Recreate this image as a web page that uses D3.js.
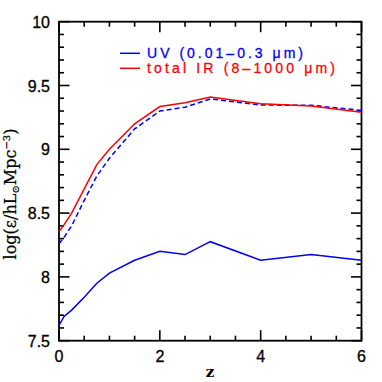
<!DOCTYPE html>
<html>
<head>
<meta charset="utf-8">
<script src="https://cdn.jsdelivr.net/npm/d3@7"></script>
<style>
  body { margin: 0; background: #fff; }
  svg { display: block; }
  .tick-label { font-family: "Liberation Sans", Arial, sans-serif; font-size: 16px; fill: #000; stroke: #000; stroke-width: 0.3px; }
  .legend { font-family: "Liberation Sans", Arial, sans-serif; font-size: 14px; stroke-width: 0.3px; }
</style>
</head>
<body>
<svg id="chart" width="382" height="382"></svg>
<script>
var redshifts = [0, 0.1, 0.25, 0.5, 0.75, 1, 1.5, 2, 2.5, 3, 4, 5, 6];
var uvValues = [7.62, 7.69, 7.74, 7.84, 7.95, 8.03, 8.13, 8.20, 8.175, 8.276, 8.13, 8.175, 8.13];
var irValues = [8.355, 8.41, 8.50, 8.69, 8.88, 9.00, 9.20, 9.335, 9.365, 9.41, 9.357, 9.34, 9.29];
var irDashedValues = [8.26, 8.31, 8.40, 8.60, 8.79, 8.93, 9.16, 9.30, 9.33, 9.395, 9.347, 9.345, 9.305];
var xTickLabels = [0, 2, 4, 6];
var yTickLabels = [7.5, 8, 8.5, 9, 9.5, 10];
var legendLabels = ["UV (0.01\u20130.3 \u03bcm)", "total IR (8\u20131000 \u03bcm)"];

var svg = d3.select("#chart");
var margin = { left: 59, right: 20.5, top: 21.7, bottom: 41.3 };
var width = 382, height = 382;

var xScale = d3.scaleLinear()
  .domain([0, 6])
  .range([margin.left, width - margin.right]);

var yScale = d3.scaleLinear()
  .domain([7.5, 10])
  .range([height - margin.bottom, margin.top]);

var line = d3.line()
  .x(d => xScale(d[0]))
  .y(d => yScale(d[1]));

var zip = vals => redshifts.map((z, i) => [z, vals[i]]);

// ticks, mirrored on all four sides, pointing inward
var xMinor = d3.range(0, 6.01, 0.5);
var yMinor = d3.range(7.5, 10.001, 0.1);
var ticks = svg.append("g").attr("stroke", "#000").attr("stroke-width", 1.6);

xMinor.forEach(function (v) {
  var major = xTickLabels.indexOf(+v.toFixed(2)) >= 0;
  var len = major ? 10.5 : 5;
  ticks.append("line").attr("x1", xScale(v)).attr("x2", xScale(v))
    .attr("y1", yScale(7.5)).attr("y2", yScale(7.5) - len);
  ticks.append("line").attr("x1", xScale(v)).attr("x2", xScale(v))
    .attr("y1", yScale(10)).attr("y2", yScale(10) + len);
});

yMinor.forEach(function (v) {
  var major = Math.abs(v * 2 - Math.round(v * 2)) < 1e-6;
  var len = major ? 10.5 : 5;
  ticks.append("line").attr("y1", yScale(v)).attr("y2", yScale(v))
    .attr("x1", xScale(0)).attr("x2", xScale(0) + len);
  ticks.append("line").attr("y1", yScale(v)).attr("y2", yScale(v))
    .attr("x1", xScale(6)).attr("x2", xScale(6) - len);
});

svg.append("rect")
  .attr("x", xScale(0)).attr("y", yScale(10))
  .attr("width", xScale(6) - xScale(0))
  .attr("height", yScale(7.5) - yScale(10))
  .attr("fill", "none").attr("stroke", "#000").attr("stroke-width", 1.8);

// tick labels
svg.append("g").selectAll("text")
  .data(xTickLabels)
  .join("text")
  .attr("class", "tick-label")
  .attr("x", d => xScale(d))
  .attr("y", 361.5)
  .attr("text-anchor", "middle")
  .text(d => d);

svg.append("g").selectAll("text")
  .data(yTickLabels)
  .join("text")
  .attr("class", "tick-label")
  .attr("x", 50)
  .attr("y", d => yScale(d) + 6)
  .attr("text-anchor", "end")
  .text(d => d);

// axis titles
svg.append("text")
  .attr("x", 210).attr("y", 377)
  .attr("text-anchor", "middle")
  .attr("font-family", "'DejaVu Serif', serif")
  .attr("font-weight", "bold")
  .attr("font-size", 15)
  .text("z");

var ylab = svg.append("text")
  .attr("transform", "translate(16,194) rotate(-90)")
  .attr("text-anchor", "middle")
  .attr("font-family", "'DejaVu Serif', serif")
  .attr("font-size", 16)
  .attr("stroke", "#000")
  .attr("stroke-width", 0.25);
ylab.append("tspan").text("log(\u03b5/hL");
ylab.append("tspan").attr("font-size", 10).attr("dy", 3).text("\u2299");
ylab.append("tspan").attr("dy", -3).text("Mpc");
ylab.append("tspan").attr("font-size", 10).attr("dy", -6).text("\u22123");
ylab.append("tspan").attr("dy", 6).text(")");

// data lines
svg.append("path").datum(zip(uvValues))
  .attr("fill", "none").attr("stroke", "#0000ff").attr("stroke-width", 1.5)
  .attr("d", line);

svg.append("path").datum(zip(irDashedValues))
  .attr("fill", "none").attr("stroke", "#0000ff").attr("stroke-width", 1.5)
  .attr("stroke-dasharray", "5,3")
  .attr("d", line);

svg.append("path").datum(zip(irValues))
  .attr("fill", "none").attr("stroke", "#ff0000").attr("stroke-width", 1.5)
  .attr("d", line);

// legend
var legendColors = ["#0000ff", "#ff0000"];
var legendWidths = [156, 188];
var legend = svg.append("g");
legendLabels.forEach(function (label, i) {
  var y = 53.3 + i * 15;
  legend.append("line")
    .attr("x1", 120).attr("x2", 140).attr("y1", y).attr("y2", y)
    .attr("stroke", legendColors[i]).attr("stroke-width", 1.5);
  legend.append("text")
    .attr("class", "legend")
    .attr("x", 147).attr("y", y + 4.5)
    .attr("fill", legendColors[i])
    .attr("stroke", legendColors[i])
    .attr("textLength", legendWidths[i])
    .attr("lengthAdjust", "spacing")
    .text(label);
});
</script>
</body>
</html>
